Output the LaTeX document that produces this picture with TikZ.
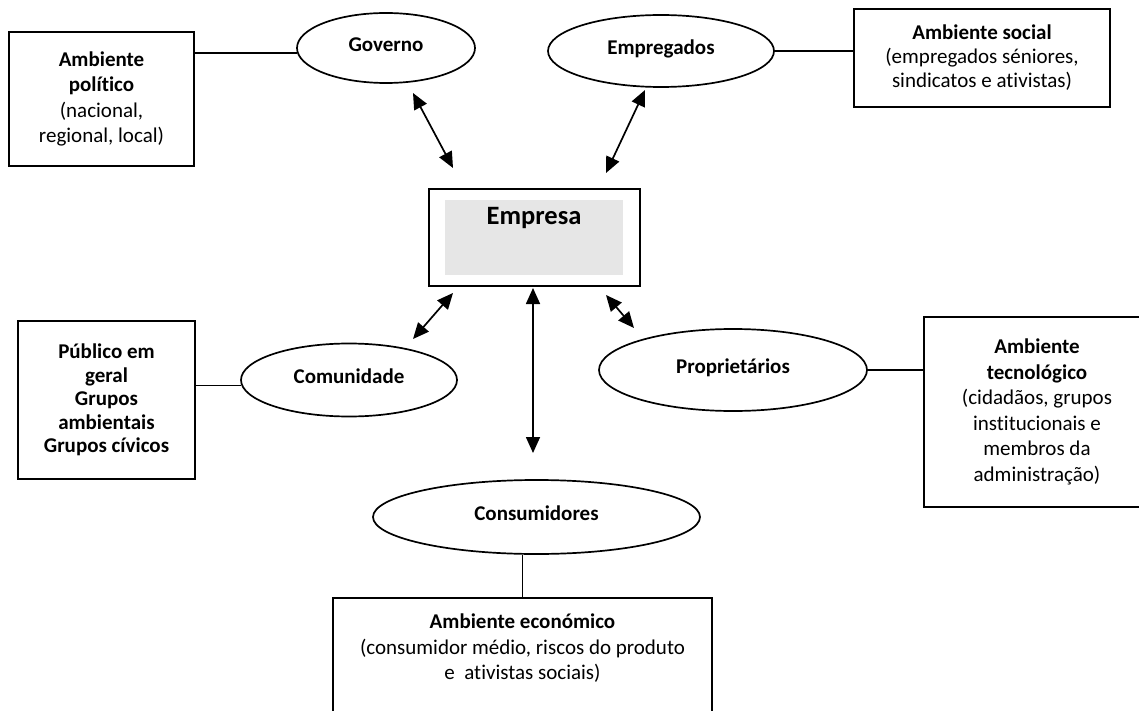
\documentclass[tikz,border=0pt]{standalone}
\usepackage{fontspec}
\setmainfont{Carlito}[Ligatures=NoCommon]
\usetikzlibrary{shapes.geometric,arrows.meta}
\definecolor{corefill}{HTML}{E6E6E6}
\begin{document}
\begin{tikzpicture}[x=1pt,y=-1pt,
  every node/.style={font=\fontsize{21}{25.5}\selectfont, inner sep=0pt},
  envbox/.style={draw, line width=1.7pt, rectangle, align=center},
  actor/.style={draw, line width=1.7pt, ellipse, text height=12pt, text depth=4.5pt,
    font=\fontsize{21}{25.5}\selectfont\bfseries},
  link/.style={line width=1.7pt},
  twoway/.style={line width=1.7pt, {Triangle[length=16pt,width=14pt]}-{Triangle[length=16pt,width=14pt]}}
]
\useasboundingbox (0,0) rectangle (1139,711);
\clip (0,0) rectangle (1139,711);

% environments (boxes)
\node[envbox, minimum width=185, minimum height=134] (pol) at (101.5,99)
  {\textbf{Ambiente}\\\textbf{político}\\(nacional,\\regional, local)};
\node[envbox, minimum width=256, minimum height=98, font=\fontsize{21}{24}\selectfont] (soc) at (982,58)
  {\textbf{Ambiente social}\\(empregados séniores,\\sindicatos e ativistas)};
\node[envbox, minimum width=177, minimum height=158, font=\fontsize{21}{23.5}\selectfont\bfseries] (pub) at (106.5,400)
  {Público em\\geral\\Grupos\\ambientais\\Grupos cívicos};
\node[envbox, minimum width=226, minimum height=190] (tec) at (1037,412)
  {\textbf{Ambiente}\\\textbf{tecnológico}\\(cidadãos, grupos\\institucionais e\\membros da\\administração)};
\node[draw, line width=1.7pt, minimum width=379, minimum height=140, anchor=north] (eco) at (522.5,597) {};
\node[anchor=north, align=center] (ecotxt) at (522.5,614)
  {\textbf{Ambiente económico}\\(consumidor médio, riscos do produto\\e\ \ ativistas sociais)};

% stakeholders (ellipses)
\node[actor, minimum width=178, minimum height=70] (gov) at (386,48) {Governo};
\node[actor, minimum width=226, minimum height=72] (emp) at (661,51) {Empregados};
\node[actor, minimum width=216, minimum height=73] (com) at (349,380) {Comunidade};
\node[actor, minimum width=268, minimum height=82] (prop) at (733,370) {Proprietários};
\node[actor, minimum width=327, minimum height=74] (cons) at (536.5,517) {Consumidores};

% the company
\node[draw, line width=1.7pt, minimum width=211, minimum height=97] (core) at (534.5,237.5) {};
\node[fill=corefill, minimum width=178, minimum height=75] (coreshade) at (534,237.5) {};
\node[font=\fontsize{26.5}{30}\selectfont\bfseries] (coretxt) at (534,218) {Empresa};

% plain links
\draw[link] (pol.east |- gov.183) -- (gov.183);
\draw[link] (emp.east) -- (emp.east -| soc.west);
\draw[link] (pub.east |- com.183) -- (com.183);
\draw[link] (prop.east) -- (prop.east -| tec.west);
\draw[link] (eco.north) -- (eco.north |- cons.south);

% two-way relations with the company
\coordinate (govA) at (413,93);   \coordinate (govB) at (453,168);
\coordinate (empA) at (645,90);   \coordinate (empB) at (606,173);
\coordinate (comA) at (413,339);  \coordinate (comB) at (453,293);
\coordinate (conA) at (533,288);  \coordinate (conB) at (533,453);
\coordinate (proA) at (606,295);  \coordinate (proB) at (634,328);
\draw[twoway] (govA) -- (govB);
\draw[twoway] (empA) -- (empB);
\draw[twoway] (comA) -- (comB);
\draw[twoway] (conA) -- (conB);
\draw[twoway] (proA) -- (proB);
\end{tikzpicture}
\end{document}
